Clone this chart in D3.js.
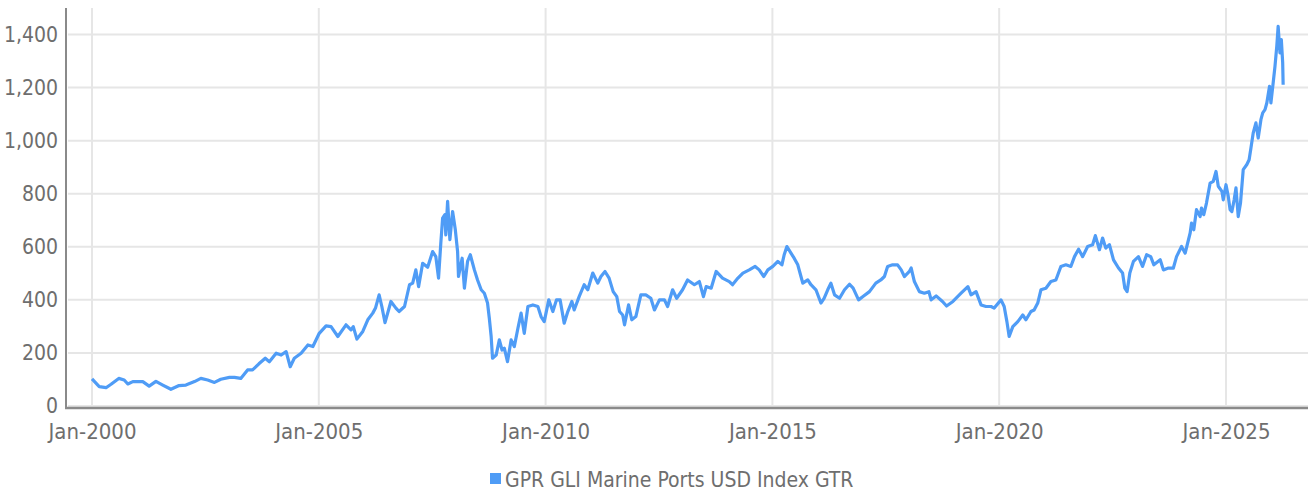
<!DOCTYPE html>
<html>
<head>
<meta charset="utf-8">
<script src="https://cdn.jsdelivr.net/npm/d3@7"></script>
<style>
	html, body { margin: 0; padding: 0; background: #fff; }
	svg text { font-family: "Liberation Sans Narrow", "DejaVu Sans Condensed", sans-serif; fill: #6e6e6e; }
</style>
</head>
<body>
<div id="chart"></div>
<script>
var dates = [
	2000.00, 2000.16, 2000.31, 2000.42, 2000.59, 2000.71, 2000.79, 2000.90, 2001.12, 2001.26,
	2001.41, 2001.56, 2001.74, 2001.92, 2002.07, 2002.26, 2002.40, 2002.55, 2002.70, 2002.84,
	2003.03, 2003.14, 2003.28, 2003.43, 2003.54, 2003.68, 2003.82, 2003.91, 2004.06, 2004.17,
	2004.28, 2004.37, 2004.46, 2004.61, 2004.76, 2004.87, 2005.01, 2005.16, 2005.27, 2005.42,
	2005.60, 2005.71, 2005.76, 2005.84, 2005.97, 2006.08, 2006.19, 2006.25, 2006.33, 2006.39,
	2006.46, 2006.59, 2006.70, 2006.77, 2006.89, 2007.00, 2007.07, 2007.14, 2007.20, 2007.29,
	2007.40, 2007.51, 2007.58, 2007.64, 2007.69, 2007.73, 2007.78, 2007.80, 2007.84, 2007.89,
	2007.95, 2008.01, 2008.06, 2008.08, 2008.16, 2008.21, 2008.28, 2008.34, 2008.43, 2008.50,
	2008.58, 2008.65, 2008.72, 2008.76, 2008.80, 2008.83, 2008.91, 2008.98, 2009.04, 2009.09,
	2009.16, 2009.24, 2009.31, 2009.39, 2009.46, 2009.53, 2009.61, 2009.72, 2009.83, 2009.90,
	2009.97, 2010.07, 2010.16, 2010.24, 2010.32, 2010.41, 2010.49, 2010.58, 2010.63, 2010.74,
	2010.85, 2010.93, 2011.04, 2011.15, 2011.22, 2011.31, 2011.40, 2011.49, 2011.57, 2011.63,
	2011.70, 2011.74, 2011.83, 2011.90, 2011.99, 2012.10, 2012.21, 2012.32, 2012.40, 2012.51,
	2012.62, 2012.69, 2012.80, 2012.89, 2013.02, 2013.13, 2013.28, 2013.39, 2013.48, 2013.54,
	2013.65, 2013.76, 2013.90, 2014.05, 2014.12, 2014.24, 2014.35, 2014.49, 2014.62, 2014.71,
	2014.81, 2014.90, 2015.01, 2015.12, 2015.21, 2015.26, 2015.32, 2015.41, 2015.48, 2015.56,
	2015.63, 2015.67, 2015.78, 2015.85, 2015.96, 2016.07, 2016.14, 2016.22, 2016.29, 2016.37,
	2016.48, 2016.59, 2016.70, 2016.78, 2016.90, 2016.99, 2017.14, 2017.28, 2017.39, 2017.47,
	2017.54, 2017.65, 2017.76, 2017.84, 2017.91, 2018.02, 2018.06, 2018.13, 2018.24, 2018.35,
	2018.45, 2018.50, 2018.61, 2018.75, 2018.84, 2018.98, 2019.16, 2019.31, 2019.38, 2019.49,
	2019.60, 2019.71, 2019.82, 2019.89, 2020.04, 2020.11, 2020.17, 2020.22, 2020.30, 2020.41,
	2020.52, 2020.59, 2020.70, 2020.77, 2020.85, 2020.92, 2021.03, 2021.14, 2021.25, 2021.36,
	2021.47, 2021.58, 2021.66, 2021.75, 2021.84, 2021.95, 2022.06, 2022.12, 2022.21, 2022.28,
	2022.35, 2022.43, 2022.52, 2022.63, 2022.72, 2022.77, 2022.82, 2022.88, 2022.96, 2023.07,
	2023.16, 2023.25, 2023.34, 2023.41, 2023.55, 2023.62, 2023.73, 2023.84, 2023.91, 2024.02,
	2024.10, 2024.21, 2024.24, 2024.29, 2024.35, 2024.43, 2024.46, 2024.51, 2024.57, 2024.65,
	2024.72, 2024.78, 2024.83, 2024.91, 2024.94, 2025.00, 2025.05, 2025.09, 2025.13, 2025.18,
	2025.22, 2025.27, 2025.32, 2025.38, 2025.46, 2025.51, 2025.55, 2025.60, 2025.66, 2025.71,
	2025.77, 2025.81, 2025.86, 2025.90, 2025.96, 2025.99, 2026.04, 2026.08, 2026.12, 2026.15,
	2026.19, 2026.22, 2026.25, 2026.26
];
var indexValues = [
	102, 73, 69, 82, 104, 98, 83, 92, 92, 75,
	93, 79, 63, 77, 79, 92, 104, 98, 89, 101,
	108, 108, 104, 136, 136, 159, 180, 167, 199, 192,
	205, 148, 180, 199, 230, 224, 274, 302, 299, 262,
	306, 287, 299, 252, 281, 325, 350, 369, 419, 375,
	314, 394, 369, 356, 375, 457, 463, 513, 450, 538,
	523, 582, 563, 482, 614, 708, 721, 645, 771, 627,
	733, 664, 582, 488, 557, 444, 545, 570, 513, 475,
	438, 425, 388, 330, 262, 180, 192, 249, 211, 218,
	167, 249, 224, 293, 350, 274, 375, 381, 375, 337,
	318, 400, 356, 400, 400, 312, 356, 394, 362, 412,
	457, 438, 501, 463, 488, 507, 482, 431, 412, 356,
	343, 306, 381, 325, 337, 419, 419, 406, 362, 400,
	400, 375, 438, 406, 438, 475, 457, 469, 412, 450,
	444, 507, 482, 469, 457, 482, 501, 513, 526, 513,
	488, 513, 526, 545, 532, 570, 601, 576, 557, 532,
	488, 463, 475, 457, 438, 388, 406, 438, 463, 419,
	406, 438, 459, 444, 400, 412, 431, 463, 475, 488,
	526, 532, 532, 513, 488, 507, 520, 469, 431, 425,
	431, 400, 415, 394, 377, 394, 425, 450, 419, 431,
	381, 375, 375, 369, 400, 375, 318, 262, 299, 318,
	343, 325, 356, 362, 388, 438, 444, 469, 475, 526,
	532, 526, 563, 591, 563, 601, 608, 642, 589, 633,
	595, 608, 551, 520, 501, 444, 431, 501, 545, 563,
	526, 570, 563, 532, 551, 513, 520, 520, 563, 601,
	576, 652, 689, 664, 740, 714, 746, 721, 765, 840,
	847, 884, 828, 809, 777, 834, 790, 740, 733, 777,
	822, 714, 765, 891, 910, 928, 972, 1029, 1067, 1010,
	1079, 1105, 1117, 1142, 1205, 1142, 1218, 1280, 1356, 1431,
	1331, 1381, 1293, 1211
];
var yTicks = [0, 200, 400, 600, 800, 1000, 1200, 1400];
var xTicks = [2000, 2005, 2010, 2015, 2020, 2025];
var seriesName = 'GPR GLI Marine Ports USD Index GTR';

const width = 1308;
const height = 493;
const lineColor = '#4f9cf6';

const svg = d3.select('#chart')
	.append('svg')
	.attr('width', width)
	.attr('height', height);

// plot area: left axis at 66, right edge of window
const x = d3.scaleLinear()
	.domain([1999.427, 2026.808])
	.range([66, 1308]);

const y = d3.scaleLinear()
	.domain([0, 1500])
	.range([406, 8]);

// vertical grid
svg.append('g')
	.selectAll('line')
	.data(xTicks)
	.enter()
	.append('line')
	.attr('x1', d => x(d))
	.attr('x2', d => x(d))
	.attr('y1', 8)
	.attr('y2', 405)
	.style('stroke', '#e6e6e6')
	.style('stroke-width', 2);

// horizontal grid
svg.append('g')
	.selectAll('line')
	.data(yTicks)
	.enter()
	.append('line')
	.attr('x1', 68)
	.attr('x2', width)
	.attr('y1', d => y(d))
	.attr('y2', d => y(d))
	.style('stroke', '#e6e6e6')
	.style('stroke-width', 2);

// y axis labels
const yAxis = g => g
	.attr('transform', 'translate(66, 0)')
	.call(d3.axisLeft(y).tickValues(yTicks).tickSize(0).tickPadding(8).tickFormat(d3.format(',')))
	.call(g => g.select('.domain').remove())
	.call(g => g.selectAll('text')
		.style('font-size', '21px')
		.attr('fill', '#6e6e6e'));

// x axis labels
const xAxis = g => g
	.attr('transform', 'translate(0, 408)')
	.call(d3.axisBottom(x).tickValues(xTicks).tickSize(0).tickPadding(15).tickFormat(d => 'Jan-' + d))
	.call(g => g.select('.domain').remove())
	.call(g => g.selectAll('text')
		.style('font-size', '22px')
		.attr('fill', '#6e6e6e'));

svg.append('g').call(yAxis);
svg.append('g').call(xAxis);

// axis lines
svg.append('line')
	.attr('x1', 66).attr('x2', 66)
	.attr('y1', 8).attr('y2', 409)
	.style('stroke', '#8a8a8a')
	.style('stroke-width', 2);
svg.append('line')
	.attr('x1', 65).attr('x2', width)
	.attr('y1', 408).attr('y2', 408)
	.style('stroke', '#8a8a8a')
	.style('stroke-width', 2.5);

// series
const data = dates.map((d, i) => ({ t: d, v: indexValues[i] }));

const line = d3.line()
	.x(d => x(d.t))
	.y(d => y(d.v));

svg.append('path')
	.datum(data)
	.attr('d', line)
	.attr('fill', 'none')
	.style('stroke', lineColor)
	.style('stroke-width', 3.2)
	.style('stroke-linejoin', 'round');

// legend
const legend = svg.append('g')
	.attr('transform', 'translate(490, 479)');
legend.append('rect')
	.attr('x', 0)
	.attr('y', -6)
	.attr('width', 11)
	.attr('height', 11)
	.attr('fill', lineColor);
legend.append('text')
	.attr('x', 15)
	.attr('y', 8)
	.style('font-size', '21px')
	.text(seriesName);
</script>
</body>
</html>
